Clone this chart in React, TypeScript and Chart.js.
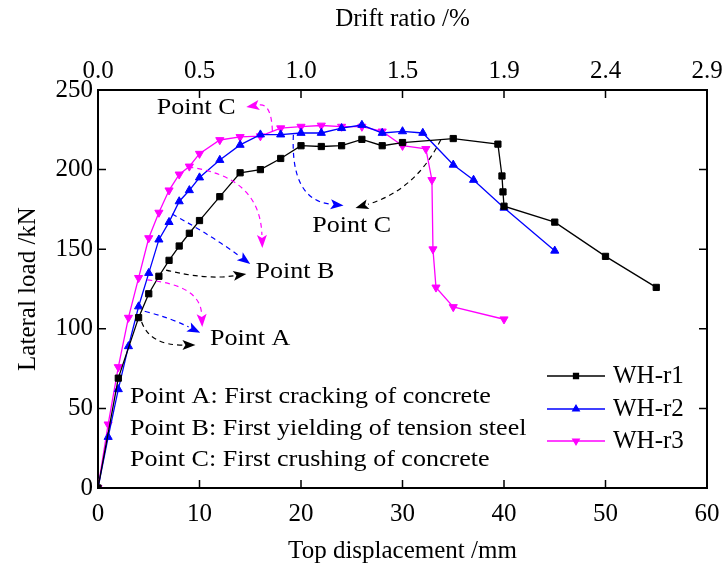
import React, { useEffect, useRef } from "react";
import { Chart, registerables } from "chart.js";
import { drawPoint } from "chart.js/helpers";

Chart.register(...registerables);

// ---------- data ----------
const seriesNames = ["WH-r1", "WH-r2", "WH-r3"];

const r1Disp = [0, 2, 4, 5, 6, 7, 8, 9, 10, 12, 14, 16, 18, 20, 22, 24, 26, 28, 30, 35, 39.4, 39.8, 39.9, 40, 45, 50, 55];
const r1Load = [0, 69, 107, 122, 133, 143, 152, 160, 168, 183, 198, 200, 207, 215, 214.5, 215, 219, 215, 217, 219.5, 216, 196, 186, 177, 167, 145.5, 126];

const r2Disp = [0, 1, 2, 3, 4, 5, 6, 7, 8, 9, 10, 12, 14, 16, 18, 20, 22, 24, 26, 28, 30, 32, 35, 37, 40, 45];
const r2Load = [0, 32, 62, 89, 114, 135, 156, 167, 180, 187, 195, 206, 215.5, 222, 222, 223, 223, 226, 228, 223, 224, 223, 203, 193.5, 176, 149];

const r3Disp = [0, 1, 2, 3, 4, 5, 6, 7, 8, 9, 10, 12, 14, 16, 18, 20, 22, 24, 26, 28, 30, 32.3, 32.9, 33.0, 33.3, 35, 40];
const r3Load = [0, 40, 76, 107, 132, 157, 173, 187, 197, 202, 210, 218.6, 220.5, 221, 226, 227, 227.7, 227, 227, 224, 215, 213, 193.5, 150, 126, 113.7, 106];

const xTicks = [0, 10, 20, 30, 40, 50, 60];
const driftLabels = ["0.0", "0.5", "1.0", "1.5", "1.9", "2.4", "2.9"];
const yTicks = [0, 50, 100, 150, 200, 250];

const noteLines = [
  "Point A: First cracking of concrete",
  "Point B: First yielding of tension steel",
  "Point C: First crushing of concrete",
];

// annotation arrows (data coordinates: from, control, to)
const BLACK = "#000000";
const BLUE = "#0000ff";
const MAGENTA = "#ff00ff";

const arrowNotes = [
  { color: BLACK, from: [4.3, 104.3], via: [5.13, 89.8], to: [9.6, 89.8] },
  { color: BLUE, from: [4.6, 111], via: [7.1, 107], to: [10.07, 97.5] },
  { color: MAGENTA, from: [4.84, 130.7], via: [10.07, 127.5], to: [10.27, 101.1] },
  { color: BLACK, from: [6.71, 136.9], via: [10.56, 130.7], to: [14.61, 134.4] },
  { color: BLUE, from: [7.3, 172.1], via: [11.25, 158.3], to: [15.0, 140.7] },
  { color: MAGENTA, from: [8.88, 201.6], via: [15.96, 196.0], to: [16.19, 150.8] },
  { color: MAGENTA, from: [17.18, 224.2], via: [17.08, 241.8], to: [14.61, 239.3] },
  { color: BLUE, from: [19.25, 221.9], via: [18.95, 181], to: [24.19, 177.4] },
  { color: BLACK, from: [33.76, 218.6], via: [31.3, 187.2], to: [25.37, 175.9] },
];

const pointLabels = [
  { text: "Point C", at: [9.67, 238.7] },
  { text: "Point C", at: [25.0, 164.6] },
  { text: "Point B", at: [19.4, 135.7] },
  { text: "Point A", at: [15.0, 93.6] },
];
const notesX = 3.16;
const notesY = [57.2, 37.1, 17.6];

const FONT_FAMILY = "'Liberation Serif', 'Times New Roman', serif";
const FS = 25;
const NOTE_FS = 24;
const NOTE_STRETCH = 1.085;

function toPts(xs: number[], ys: number[]) {
  return xs.map((x, i) => ({ x, y: ys[i] }));
}

function stretchedText(ctx: CanvasRenderingContext2D, text: string, x: number, y: number, align: "left" | "center") {
  const w = ctx.measureText(text).width * NOTE_STRETCH;
  const left = align === "center" ? x - w / 2 : x;
  ctx.save();
  ctx.translate(left, y);
  ctx.scale(NOTE_STRETCH, 1);
  ctx.textAlign = "left";
  ctx.fillText(text, 0, 0);
  ctx.restore();
}

const decorPlugin = {
  id: "decor",
  afterDatasetsDraw(chart: any) {
    const { ctx, chartArea: ca, scales } = chart;
    const xs = scales.x;
    const ys = scales.y;
    const px = (v: number) => xs.getPixelForValue(v);
    const py = (v: number) => ys.getPixelForValue(v);
    ctx.save();

    // inward tick marks on all four sides
    ctx.strokeStyle = "#000";
    ctx.lineWidth = 1.5;
    ctx.setLineDash([]);
    const tl = 8;
    ctx.beginPath();
    xTicks.forEach((v) => {
      const x = px(v);
      ctx.moveTo(x, ca.bottom);
      ctx.lineTo(x, ca.bottom - tl);
      ctx.moveTo(x, ca.top);
      ctx.lineTo(x, ca.top + tl);
    });
    yTicks.forEach((v) => {
      const y = py(v);
      ctx.moveTo(ca.left, y);
      ctx.lineTo(ca.left + tl, y);
      ctx.moveTo(ca.right, y);
      ctx.lineTo(ca.right - tl, y);
    });
    ctx.stroke();

    // dashed curved arrows
    arrowNotes.forEach((a) => {
      const x0 = px(a.from[0]), y0 = py(a.from[1]);
      const cx = px(a.via[0]), cy = py(a.via[1]);
      const x1 = px(a.to[0]), y1 = py(a.to[1]);
      const dx = x1 - cx, dy = y1 - cy;
      const len = Math.hypot(dx, dy) || 1;
      const ux = dx / len, uy = dy / len;
      const headL = 13, headW = 5;
      const bx = x1 - ux * headL, by = y1 - uy * headL;
      ctx.strokeStyle = a.color;
      ctx.fillStyle = a.color;
      ctx.lineWidth = 1.2;
      ctx.setLineDash([5, 4]);
      ctx.beginPath();
      ctx.moveTo(x0, y0);
      ctx.quadraticCurveTo(cx, cy, bx, by);
      ctx.stroke();
      ctx.setLineDash([]);
      ctx.beginPath();
      ctx.moveTo(x1, y1);
      ctx.lineTo(bx - uy * headW, by + ux * headW);
      ctx.lineTo(bx + ux * 3, by + uy * 3);
      ctx.lineTo(bx + uy * headW, by - ux * headW);
      ctx.closePath();
      ctx.fill();
    });

    // text labels
    ctx.fillStyle = "#000";
    ctx.font = `${NOTE_FS}px ${FONT_FAMILY}`;
    ctx.textBaseline = "middle";
    pointLabels.forEach((l) => stretchedText(ctx, l.text, px(l.at[0]), py(l.at[1]), "center"));
    noteLines.forEach((t, i) => stretchedText(ctx, t, px(notesX), py(notesY[i]), "left"));

    // legend
    ctx.font = `${FS}px ${FONT_FAMILY}`;
    const rows = [112, 79, 47];
    chart.data.datasets.forEach((ds: any, i: number) => {
      const y = ca.bottom - rows[i];
      const xa = ca.right - 160, xb = ca.right - 102;
      ctx.strokeStyle = ds.borderColor;
      ctx.lineWidth = ds.borderWidth;
      ctx.setLineDash([]);
      ctx.beginPath();
      ctx.moveTo(xa, y);
      ctx.lineTo(xb, y);
      ctx.stroke();
      ctx.fillStyle = ds.pointBackgroundColor;
      drawPoint(ctx, { pointStyle: ds.pointStyle, rotation: ds.pointRotation || 0, radius: ds.pointRadius * 0.8, borderWidth: 1 }, (xa + xb) / 2, y);
      ctx.fillStyle = "#000";
      ctx.textAlign = "left";
      ctx.textBaseline = "middle";
      ctx.fillText(ds.label, ca.right - 94, y);
    });

    ctx.restore();
  },
};

export default function App() {
  const ref = useRef<HTMLCanvasElement | null>(null);

  useEffect(() => {
    document.body.style.margin = "0";
    const canvas = ref.current;
    if (!canvas) return;
    const font = { family: FONT_FAMILY, size: FS };
    const mk = (label: string, xs: number[], ys: number[], color: string, style: string, rot: number, r: number) => ({
      label,
      data: toPts(xs, ys),
      borderColor: color,
      backgroundColor: color,
      pointBackgroundColor: color,
      pointBorderColor: color,
      borderWidth: 1.3,
      pointStyle: style,
      pointRotation: rot,
      pointRadius: r,
      pointBorderWidth: 1,
      tension: 0,
      fill: false,
    });
    const fitH = (h: number) => (s: any) => {
      s.height = h;
      s.paddingLeft = 0;
      s.paddingRight = 0;
    };
    const fitV = (w: number) => (s: any) => {
      s.width = w;
      s.paddingTop = 0;
      s.paddingBottom = 0;
    };
    const chart = new Chart(canvas, {
      type: "line",
      data: {
        datasets: [
          mk(seriesNames[0], r1Disp, r1Load, BLACK, "rect", 0, 4.4),
          mk(seriesNames[1], r2Disp, r2Load, BLUE, "triangle", 0, 4.7),
          mk(seriesNames[2], r3Disp, r3Load, MAGENTA, "triangle", 180, 4.7),
        ],
      },
      options: {
        responsive: false,
        animation: false,
        layout: { padding: 0 },
        plugins: { legend: { display: false }, tooltip: { enabled: false } },
        scales: {
          x: {
            type: "linear",
            position: "bottom",
            min: 0,
            max: 60,
            afterBuildTicks: (s: any) => { s.ticks = xTicks.map((v) => ({ value: v })); },
            afterFit: fitH(80),
            ticks: { font, color: "#000", padding: 11, maxRotation: 0 },
            grid: { display: false, drawTicks: false },
            border: { display: true, color: "#000", width: 2 },
            title: { display: true, text: "Top displacement /mm", font, color: "#000", padding: { top: 0, bottom: 2 } },
          },
          x2: {
            type: "linear",
            position: "top",
            min: 0,
            max: 60,
            afterBuildTicks: (s: any) => { s.ticks = xTicks.map((v) => ({ value: v })); },
            afterFit: fitH(90),
            ticks: { font, color: "#000", padding: 4, maxRotation: 0, callback: (v: any) => driftLabels[xTicks.indexOf(Number(v))] ?? "" },
            grid: { display: false, drawTicks: false },
            border: { display: true, color: "#000", width: 2 },
            title: { display: true, text: "Drift ratio /%", font, color: "#000", padding: { top: 4, bottom: 0 } },
          },
          y: {
            type: "linear",
            position: "left",
            min: 0,
            max: 250,
            afterBuildTicks: (s: any) => { s.ticks = yTicks.map((v) => ({ value: v })); },
            afterFit: fitV(98),
            ticks: { font, color: "#000", padding: 5 },
            grid: { display: false, drawTicks: false },
            border: { display: true, color: "#000", width: 2 },
            title: { display: true, text: "Lateral load /kN", font, color: "#000", padding: { top: 13, bottom: 0 } },
          },
          y2: {
            type: "linear",
            position: "right",
            min: 0,
            max: 250,
            afterFit: fitV(18),
            ticks: { display: false },
            grid: { display: false, drawTicks: false },
            border: { display: true, color: "#000", width: 2 },
          },
        },
      },
      plugins: [decorPlugin],
    } as any);
    return () => chart.destroy();
  }, []);

  return (
    <div style={{ width: 725, height: 568, background: "#fff" }}>
      <canvas ref={ref} width={725} height={568} style={{ display: "block" }} />
    </div>
  );
}
